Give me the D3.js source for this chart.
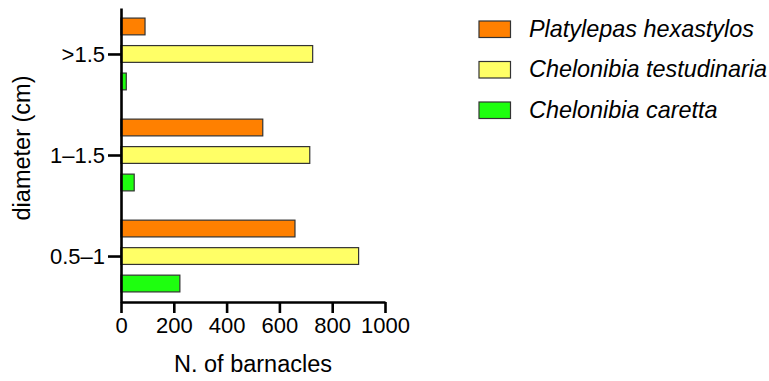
<!DOCTYPE html>
<html><head><meta charset="utf-8">
<script src="https://cdn.jsdelivr.net/npm/d3@7"></script>
<style>body{margin:0;background:#fff}svg{display:block;font-family:"Liberation Sans",Arial,sans-serif}</style>
</head><body>
<svg id="c" width="769" height="381"></svg>
<script>
const categories = ["0.5–1", "1–1.5", ">1.5"];
const seriesNames = ["Platylepas hexastylos", "Chelonibia testudinaria", "Chelonibia caretta"];
const platylepas = [659, 537, 91];
const testudinaria = [900, 715, 726];
const caretta = [223, 50, 20];
const xTicks = [0, 200, 400, 600, 800, 1000];
const colors = ["#FF8000", "#FFFF66", "#1EFF0F"];

const seriesValues = [platylepas, testudinaria, caretta];
const svg = d3.select("#c");
const mLeft = 121, mRight = 385, mTop = 8, mBottom = 302;

const x = d3.scaleLinear().domain([0, 1000]).range([mLeft, mRight]);
const y = d3.scalePoint().domain(categories).range([mBottom, mTop]).padding(0.455);
const sub = d3.scaleBand().domain(seriesNames).range([-41.25, 41.25]).paddingInner(0.39).paddingOuter(0.195);

// bars
seriesNames.forEach((s, si) => {
  svg.append("g").selectAll("rect").data(categories.map((c, ci) => ({c, v: seriesValues[si][ci]})))
    .join("rect")
    .attr("x", x(0))
    .attr("y", d => y(d.c) + sub(s))
    .attr("width", d => x(d.v) - x(0))
    .attr("height", sub.bandwidth())
    .attr("fill", colors[si])
    .attr("stroke", "#333")
    .attr("stroke-width", 1.2);
});

// x axis
const gx = svg.append("g").attr("transform", `translate(0,${mBottom})`)
  .call(d3.axisBottom(x).tickValues(xTicks).tickFormat(d3.format("d")).tickSize(11).tickPadding(4).tickSizeOuter(0));
gx.select(".domain").attr("stroke", "#000").attr("stroke-width", 2.6);
gx.selectAll(".tick line").attr("stroke", "#000").attr("stroke-width", 2.6);
gx.selectAll("text").attr("font-size", 22).attr("fill", "#000");

// y axis
const gy = svg.append("g").attr("transform", `translate(${mLeft},0)`)
  .call(d3.axisLeft(y).tickSize(13).tickPadding(3).tickSizeOuter(0));
gy.select(".domain").attr("stroke", "#000").attr("stroke-width", 2.6);
gy.selectAll(".tick line").attr("stroke", "#000").attr("stroke-width", 2.6);
gy.selectAll("text").attr("font-size", 22).attr("fill", "#000");

// axis titles
svg.append("text").attr("x", (mLeft + mRight) / 2).attr("y", 372)
  .attr("text-anchor", "middle").attr("font-size", 23.5).text("N. of barnacles");
svg.append("text").attr("transform", `translate(29.5,148) rotate(-90)`)
  .attr("text-anchor", "middle").attr("font-size", 23.5).text("diameter (cm)");

// legend
const lg = svg.append("g");
seriesNames.forEach((s, i) => {
  const yy = 21 + i * 40.5;
  lg.append("rect").attr("x", 479).attr("y", yy).attr("width", 31.5).attr("height", 16.5)
    .attr("fill", colors[i]).attr("stroke", "#333").attr("stroke-width", 1.2);
  lg.append("text").attr("x", 529).attr("y", yy + 15.5).attr("font-size", 23.4)
    .attr("font-style", "italic").text(s);
});
</script>
</body></html>
